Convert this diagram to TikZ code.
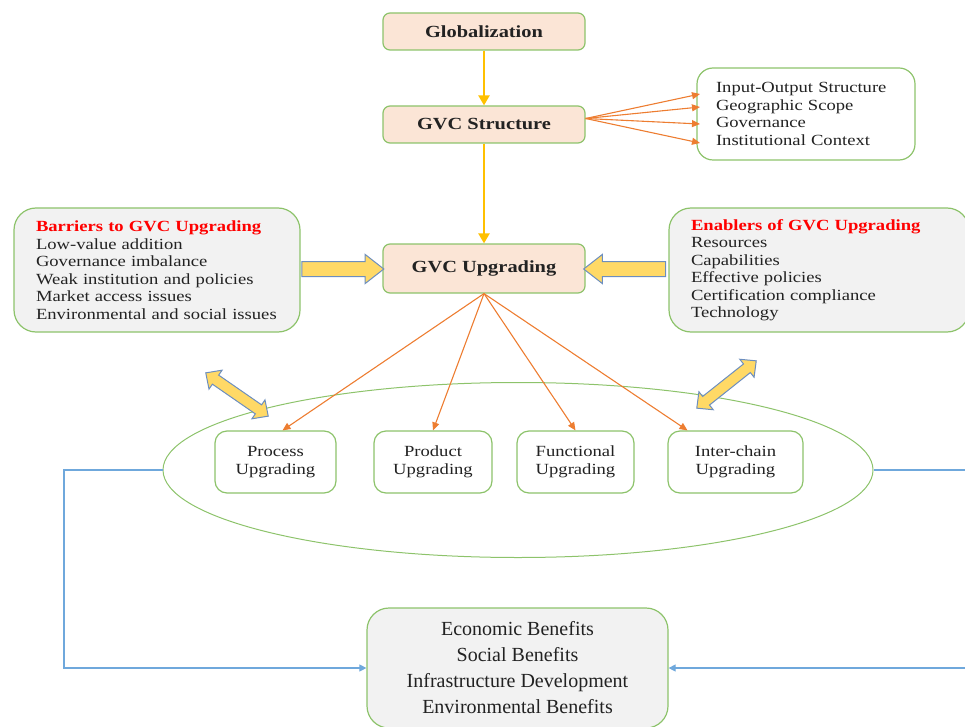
\documentclass[tikz,border=0pt]{standalone}
\usepackage{fontspec}
\setmainfont{Liberation Serif}[FakeStretch=1.2]
\newfontfamily\benfont{Liberation Serif}
\usetikzlibrary{arrows.meta,shapes.geometric,shapes.arrows}

\definecolor{boxgreen}{HTML}{8DC36B}
\definecolor{peach}{HTML}{FBE5D6}
\definecolor{panelgrey}{HTML}{F2F2F2}
\definecolor{flowyellow}{HTML}{FFC000}
\definecolor{flowor}{HTML}{ED7D31}
\definecolor{blockfill}{HTML}{FFD966}
\definecolor{blockedge}{HTML}{6C8EBF}
\definecolor{loopblue}{HTML}{6FA8DC}
\definecolor{ink}{HTML}{222222}
\definecolor{titlered}{HTML}{FF0000}

\begin{document}
\begin{tikzpicture}[x=1pt,y=-1pt,
  every node/.style={text=ink},
  gbox/.style={draw=boxgreen, line width=1.2pt},
  stage/.style={gbox, fill=peach, rounded corners=7pt, minimum width=202pt,
    font=\fontsize{17}{20}\selectfont\bfseries},
  listbox/.style={gbox, rounded corners=16pt, align=left,
    font=\fontsize{15.5}{17.5}\selectfont},
  sidebox/.style={gbox, fill=panelgrey, rounded corners=22pt, align=left,
    minimum height=124pt, inner xsep=22pt,
    font=\fontsize{15.5}{17.5}\selectfont},
  upbox/.style={gbox, fill=white, rounded corners=12pt, align=center,
    minimum height=62pt, font=\fontsize{15.5}{18}\selectfont},
  yarrow/.style={draw=flowyellow, line width=2.2pt,
    -{Triangle[length=10pt,width=11pt]}},
  oarrow/.style={draw=flowor, line width=1.1pt,
    -{Triangle[length=8pt,width=7pt]}},
  barrow/.style={draw=loopblue, line width=1.1pt,
    -{Triangle[length=7pt,width=7pt]}},
  sblock/.style={single arrow, draw=blockedge, fill=blockfill, line width=1pt,
    inner xsep=0pt, inner ysep=7pt, single arrow head extend=7pt,
    single arrow tip angle=76},
  dblock/.style={double arrow, draw=blockedge, fill=blockfill, line width=1pt,
    inner xsep=0pt, inner ysep=5pt, double arrow head extend=6pt,
    double arrow tip angle=88},
]
\useasboundingbox (0,0) rectangle (965,727);
\clip (0,0) rectangle (965,727);

% ring around the four upgrading types
\node[ellipse, draw=boxgreen, line width=1pt, minimum width=710pt,
  minimum height=175pt] (ell) at (518,470) {};

% main chain
\node[stage, minimum height=37pt] (glob) at (484,31.5) {Globalization};
\node[stage, minimum height=37pt] (gs) at (484,124.5) {GVC Structure};
\node[stage, minimum height=49pt] (gu) at (484,268.5) {GVC Upgrading};

% structure dimensions
\node[listbox, minimum width=218pt, minimum height=92pt, inner xsep=19pt,
  text width=180pt] (io) at (806,114)
  {Input-Output Structure\\Geographic Scope\\Governance\\Institutional Context};
\coordinate (io1) at (700,94);
\coordinate (io2) at (700,107);
\coordinate (io3) at (700,124);
\coordinate (io4) at (700,143);

% barriers and enablers
\node[sidebox, minimum width=286pt, text width=242pt] (bar) at (157,270)
  {{\color{titlered}\bfseries Barriers to GVC Upgrading}\\
   Low-value addition\\Governance imbalance\\Weak institution and policies\\
   Market access issues\\Environmental and social issues};
\node[sidebox, minimum width=300pt, text width=256pt] (ena) at (819,270)
  {{\color{titlered}\bfseries Enablers of GVC Upgrading}\\
   Resources\\Capabilities\\Effective policies\\Certification compliance\\
   Technology};

% upgrading types
\node[upbox, minimum width=121pt] (p1) at (275.5,462) {Process\\Upgrading};
\node[upbox, minimum width=118pt] (p2) at (433,462) {Product\\Upgrading};
\node[upbox, minimum width=117pt] (p3) at (575.5,462) {Functional\\Upgrading};
\node[upbox, minimum width=135pt] (p4) at (735.5,462) {Inter-chain\\Upgrading};

% benefits
\node[gbox, fill=panelgrey, rounded corners=22pt, minimum width=301pt,
  minimum height=120pt, align=center,
  font=\benfont\fontsize{20}{26}\selectfont] (ben) at (517.5,668)
  {Economic Benefits\\Social Benefits\\Infrastructure Development\\
   Environmental Benefits};

% block arrows
\node[sblock, minimum height=82pt] (a1) at (338,269) {};
\node[sblock, minimum height=82pt, shape border rotate=180] (a2) at (629.5,269) {};
\node[dblock, minimum height=76pt, rotate=-34.7] (d1) at (237,394.5) {};
\node[dblock, minimum height=76pt, rotate=38.5] (d2) at (726.5,384.5) {};

% connectors
\draw[yarrow] (glob) -- (gs);
\draw[yarrow] (gs) -- (gu);
\draw[oarrow] ([yshift=6pt]gs.east) -- (io1);
\draw[oarrow] ([yshift=6pt]gs.east) -- (io2);
\draw[oarrow] ([yshift=6pt]gs.east) -- (io3);
\draw[oarrow] ([yshift=6pt]gs.east) -- (io4);
\draw[oarrow] (gu.south) -- ([xshift=7pt]p1.north);
\draw[oarrow] (gu.south) -- (p2.north);
\draw[oarrow] (gu.south) -- (p3.north);
\draw[oarrow] (gu.south) -- ([xshift=-48pt]p4.north);

\coordinate (lc) at (64,470);
\coordinate (rc) at (975,470);
\draw[barrow] (ell.west) -- (lc) |- (ben.west);
\draw[barrow] (ell.east) -- (rc) |- (ben.east);
\end{tikzpicture}
\end{document}
